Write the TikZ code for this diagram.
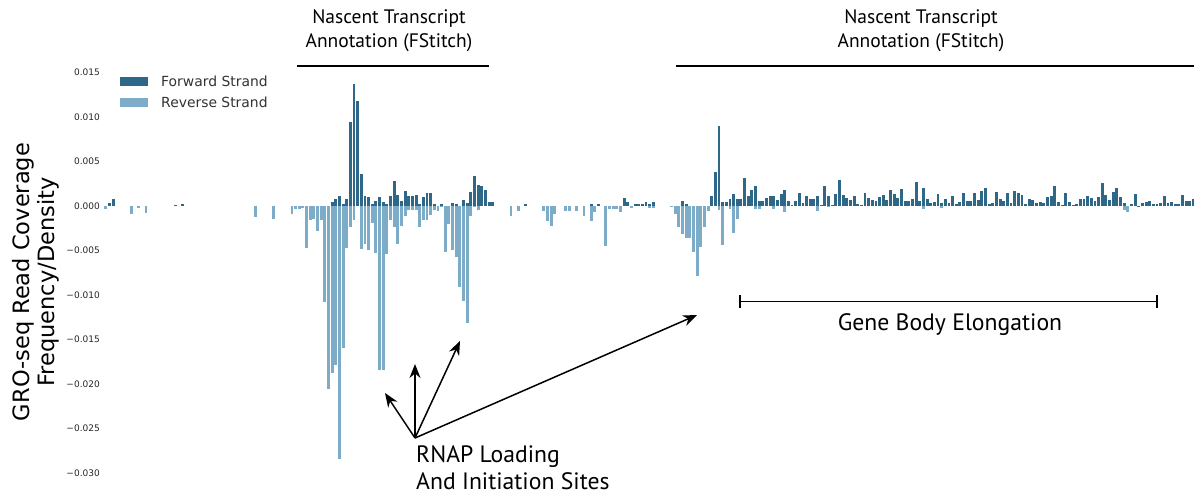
\documentclass[tikz,border=0pt]{standalone}
\usepackage{fontspec}
\setmainfont{PT Sans}
\newfontfamily\plotfont{DejaVu Sans}
\usetikzlibrary{arrows.meta}
\definecolor{fwd}{RGB}{47,103,137}
\definecolor{rev}{RGB}{125,172,200}
\tikzset{
  fbar/.style={fill=fwd},
  rbar/.style={fill=rev},
  ticklabel/.style={font=\plotfont\fontsize{9}{9}\selectfont,text=black!85,anchor=east,inner sep=0pt},
  legendtext/.style={font=\plotfont\fontsize{13.9}{13.9}\selectfont,text=black!80,anchor=west,inner sep=0pt},
  note/.style={font=\fontsize{19.5}{24}\selectfont,align=center},
  bignote/.style={font=\fontsize{23.7}{27}\selectfont},
  pointer/.style={line width=1.5pt,-{Stealth[length=14pt,width=11pt]}}
}
\begin{document}
\begin{tikzpicture}[x=1pt,y=-1pt]
  \useasboundingbox[fill=white] (0,0) rectangle (1194,494);
  % forward strand, bar index / height in px
  \foreach \i/\h in {1/3.3,2/6.7,19/1,21/2.3,
    62/3.7,63/6.7,64/9.7,65/2,66/6.7,67/83.7,68/121.7,69/105,70/32.3,71/10.3,72/8.7,73/2,74/5.3,75/8.7,76/4,77/2,78/9.7,79/24.7,80/11,81/4.7,82/14.7,83/10.3,84/10.3,85/11,86/2,87/9.3,88/12.7,89/12.7,90/2.3,92/1.7,95/2.7,96/2,98/6,99/2.7,100/14.3,101/29.7,102/21.3,103/19.7,104/16.3,105/4,106/4,
    115/1.7,133/2.3,135/2.3,142/7.7,143/4.3,145/1.7,146/1.7,147/2.3,148/4.3,149/1.7,150/3.7,158/5,159/2.3,
    166/10,167/33.5,168/80,169/3.7,170/3.7,171/7,172/11.7,173/7,174/7,175/27.7,176/9.7,177/15.7,178/20,179/5.3,180/5.3,181/7.7,182/10.3,183/10.3,184/6.3,185/12.3,186/15.7,187/5,188/0.7,189/5,190/13.3,191/3,192/10,193/7,194/7,195/9.7,196/1,197/20,198/10,199/0.7,200/12.3,201/25.7,202/11.3,203/8.3,204/6,205/9.7,206/2,207/1.3,208/13,209/8,210/6.3,211/5.3,212/9,213/11.3,214/5.7,215/16,216/12,217/7.7,218/17.3,219/5.3,220/5.3,221/6.7,222/24,223/5,224/17.7,225/7,226/2.5,227/3.5,228/12.3,229/3.3,230/7.3,231/3.3,232/9.7,233/2.3,234/4,235/12.7,236/4.7,237/4.7,238/12.7,239/6,240/15,241/18,242/2.3,243/2.7,244/13.7,245/7.3,246/5.3,247/13,248/3.3,249/14.7,250/12.7,251/11.3,252/2,253/7,254/6,255/2.7,256/4,257/3.3,258/8.7,259/10,260/19.7,261/4,262/1.3,263/12.7,264/3.7,265/1,266/2,267/7.3,268/7.3,269/9.7,270/8.3,271/4.7,272/9.3,273/23,274/11,275/6,276/13.7,277/18,278/8.7,279/2.7,281/1.7,282/12.3,283/0.3,284/2.7,285/4,286/5,287/2,288/2,289/3,290/9.7,291/2.7,292/3.7,293/2,294/2,295/11.3,296/4.7,297/4.7,298/7}
    \fill[fbar] (105.8+3.65*\i-1.45,206) rectangle ++(2.9,-\h);
  % reverse strand, bar index / depth in px
  \foreach \i/\h in {0/3,7/8,9/2,11/6.7,41/10.7,46/13.3,51/8,52/3,53/3,54/2,
    55/41.7,56/14,57/13,58/24.7,59/14,60/95.7,61/183.3,62/166.7,63/159,64/253.3,65/141.7,66/41.7,67/21.3,68/14,70/43.3,71/38,72/44,73/16.7,74/46.7,75/164,76/164,77/48.3,78/14,79/21.3,80/38.3,81/20,82/9.7,83/4,84/4,85/4,86/21.3,87/14,88/14,89/9,90/4,91/5,92/1.3,93/45.7,94/18,95/44,96/50.7,97/80.7,98/94.7,99/117.3,100/9.7,101/1.3,102/4,
    111/9.7,113/4.7,120/4.7,121/14.7,122/19.7,123/8,126/4.7,127/4.7,129/4.7,131/9.7,133/14.7,134/6.3,137/39.7,138/3.3,139/3.3,140/3.3,141/5.7,144/2.3,149/1.7,150/1.7,
    155/0.7,156/8.3,157/20.7,158/28.3,159/31.7,160/31.7,161/45.7,162/70,163/40.7,164/21.3,165/5,168/4,169/39,171/3,172/27,173/13,178/2.7,179/2.7,183/3.3,186/6.3,195/4.7,198/1.3,224/3.3,229/2,279/4,280/5.7}
    \fill[rbar] (105.8+3.65*\i-1.45,206) rectangle ++(2.9,\h);
  \foreach \v [count=\k from 0] in {0.015,0.010,0.005,0.000,−0.005,−0.010,−0.015,−0.020,−0.025,−0.030}
    \node[ticklabel] at (100,72.6+44.5*\k) {\v};
  \node[rotate=90,align=center,font=\plotfont\fontsize{22.5}{25}\selectfont] (ylab) at (36,282) {GRO-seq Read Coverage\\Frequency/Density};
  \fill[fwd] (120,77) rectangle (148,86);
  \fill[rev] (120,98) rectangle (148,107);
  \node[legendtext] (lf) at (161,81.5) {Forward Strand};
  \node[legendtext] (lr) at (161,102.5) {Reverse Strand};
  \node[note] (n1) at (389,31) {Nascent Transcript\\Annotation (FStitch)};
  \node[note] (n2) at (921,31) {Nascent Transcript\\Annotation (FStitch)};
  \draw[line width=1.8pt] (297,66) -- (489,66);
  \draw[line width=1.8pt] (676,66) -- (1194,66);
  \coordinate (g1) at (739,301.5);
  \coordinate (g2) at (1158,301.5);
  \draw[line width=1.6pt,{Bar[width=13pt]}-{Bar[width=13pt]}] (g1) -- (g2);
  \node[bignote] (gb) at (950,325) {Gene Body Elongation};
  \coordinate (o) at (415,438);
  \coordinate (a) at (385,393);
  \coordinate (b) at (415,364);
  \coordinate (c) at (460,341);
  \coordinate (d) at (697,315);
  \draw[pointer] (o) -- (a);
  \draw[pointer] (o) -- (b);
  \draw[pointer] (o) -- (c);
  \draw[pointer] (o) -- (d);
  \node[bignote,anchor=north west,align=left,inner sep=0pt] (rl) at (416,445) {RNAP Loading\\And Initiation Sites};
\end{tikzpicture}
\end{document}
